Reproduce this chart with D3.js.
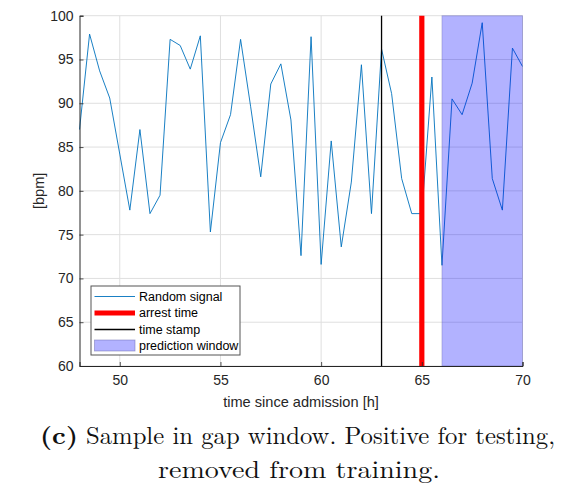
<!DOCTYPE html>
<html>
<head>
<meta charset="utf-8">
<script src="https://cdn.jsdelivr.net/npm/d3@7/dist/d3.min.js"></script>
<style>
  html, body { margin: 0; padding: 0; background: #fff; }
  svg { display: block; }
</style>
</head>
<body>
<svg id="chart" width="571" height="489"></svg>
<script>
// Heart-rate samples every half hour (time since admission [h], bpm)
const hours = [48, 48.5, 49, 49.5, 50, 50.5, 51, 51.5, 52, 52.5, 53, 53.5, 54, 54.5,
  55, 55.5, 56, 56.5, 57, 57.5, 58, 58.5, 59, 59.5, 60, 60.5, 61, 61.5, 62, 62.5,
  63, 63.5, 64, 64.5, 65, 65.5, 66, 66.5, 67, 67.5, 68, 68.5, 69, 69.5, 70];
const bpm = [87.0, 97.9, 93.7, 90.6, 84.2, 77.8, 87.0, 77.4, 79.5, 97.3, 96.6, 93.9, 97.7, 75.3,
  85.5, 88.7, 97.3, 89.6, 81.6, 92.2, 94.5, 88.1, 72.6, 97.6, 71.6, 85.7, 73.6, 81.0, 94.4, 77.4,
  96.2, 91.1, 81.4, 77.4, 77.4, 93.0, 71.5, 90.5, 88.7, 92.3, 99.2, 81.4, 77.8, 96.3, 94.2];

const arrestTime = 65;
const timeStamp = 63;
const predictionWindow = [66, 70];

const xDomain = [48, 70];
const yDomain = [60, 100];
const xTicks = [50, 55, 60, 65, 70];
const yTicks = [60, 65, 70, 75, 80, 85, 90, 95, 100];

const legendLabels = ["Random signal", "arrest time", "time stamp", "prediction window"];

const svg = d3.select("#chart");
const M = { left: 79.5, right: 522.5, top: 15.7, bottom: 366 };

const x = d3.scaleLinear().domain(xDomain).range([M.left, M.right]);
const y = d3.scaleLinear().domain(yDomain).range([M.bottom, M.top]);

const axisColor = "#262626";
const gridColor = "#dfdfdf";
const lineColor = "#0072BD";

// grid
const grid = svg.append("g");
grid.selectAll("line.gx").data(xTicks).join("line")
  .attr("x1", d => x(d)).attr("x2", d => x(d))
  .attr("y1", M.top).attr("y2", M.bottom)
  .attr("stroke", gridColor).attr("stroke-width", 1);
grid.selectAll("line.gy").data(yTicks).join("line")
  .attr("x1", M.left).attr("x2", M.right)
  .attr("y1", d => y(d)).attr("y2", d => y(d))
  .attr("stroke", gridColor).attr("stroke-width", 1);

// signal
const line = d3.line().x((d, i) => x(hours[i])).y(d => y(d));
svg.append("path").datum(bpm)
  .attr("d", line)
  .attr("fill", "none")
  .attr("stroke", lineColor)
  .attr("stroke-width", 0.9)
  .attr("stroke-linejoin", "round");

// time stamp
svg.append("line")
  .attr("x1", x(timeStamp)).attr("x2", x(timeStamp))
  .attr("y1", M.top).attr("y2", M.bottom)
  .attr("stroke", "#000").attr("stroke-width", 1.3);

// arrest time
svg.append("line")
  .attr("x1", x(arrestTime)).attr("x2", x(arrestTime))
  .attr("y1", M.top).attr("y2", M.bottom)
  .attr("stroke", "#ff0000").attr("stroke-width", 5.2);

// prediction window
svg.append("rect")
  .attr("x", x(predictionWindow[0]))
  .attr("y", y(yDomain[1]))
  .attr("width", x(predictionWindow[1]) - x(predictionWindow[0]))
  .attr("height", y(yDomain[0]) - y(yDomain[1]))
  .attr("fill", "#0000ff").attr("fill-opacity", 0.3)
  .attr("stroke", "#6a6ab0").attr("stroke-opacity", 0.35).attr("stroke-width", 1);

// axes
const xAxis = d3.axisBottom(x).tickValues(xTicks).tickSize(-4).tickPadding(9).tickFormat(d3.format("d"));
const yAxis = d3.axisLeft(y).tickValues(yTicks).tickSize(-4).tickPadding(6).tickFormat(d3.format("d"));

const gx = svg.append("g").attr("transform", `translate(0,${M.bottom})`).call(xAxis);
const gy = svg.append("g").attr("transform", `translate(${M.left},0)`).call(yAxis);
[gx, gy].forEach(g => {
  g.select(".domain").attr("stroke", axisColor).attr("stroke-width", 1);
  g.selectAll(".tick line").attr("stroke", axisColor).attr("stroke-width", 0.8);
  g.selectAll(".tick text")
    .attr("fill", axisColor)
    .attr("font-family", "Liberation Sans, Arial, sans-serif")
    .attr("font-size", 14);
});
gx.selectAll(".tick text").attr("dy", "0.71em");

// axis labels
svg.append("text")
  .attr("x", (M.left + M.right) / 2).attr("y", 407)
  .attr("text-anchor", "middle")
  .attr("fill", axisColor)
  .attr("font-family", "Liberation Sans, Arial, sans-serif")
  .attr("font-size", 14.6)
  .text("time since admission [h]");

svg.append("text")
  .attr("transform", `translate(44,${(M.top + M.bottom) / 2}) rotate(-90)`)
  .attr("text-anchor", "middle")
  .attr("fill", axisColor)
  .attr("font-family", "Liberation Sans, Arial, sans-serif")
  .attr("font-size", 14.6)
  .text("[bpm]");

// legend
const leg = svg.append("g");
leg.append("rect")
  .attr("x", 91).attr("y", 286).attr("width", 149).attr("height", 69)
  .attr("fill", "#fff").attr("stroke", "#555").attr("stroke-width", 1);
const rowY = [296.5, 313, 329.5, 345.5];
const legFont = { family: "Liberation Sans, Arial, sans-serif", size: 12.5 };
leg.append("line").attr("x1", 94.5).attr("x2", 135).attr("y1", rowY[0]).attr("y2", rowY[0])
  .attr("stroke", lineColor).attr("stroke-width", 0.9);
leg.append("line").attr("x1", 94.5).attr("x2", 135).attr("y1", rowY[1]).attr("y2", rowY[1])
  .attr("stroke", "#ff0000").attr("stroke-width", 5);
leg.append("line").attr("x1", 94.5).attr("x2", 135).attr("y1", rowY[2]).attr("y2", rowY[2])
  .attr("stroke", "#000").attr("stroke-width", 1.3);
leg.append("rect").attr("x", 94.5).attr("y", rowY[3] - 5.5).attr("width", 40.5).attr("height", 11)
  .attr("fill", "#0000ff").attr("fill-opacity", 0.3)
  .attr("stroke", "#6a6ab0").attr("stroke-opacity", 0.6).attr("stroke-width", 0.8);
leg.selectAll("text.lab").data(legendLabels).join("text")
  .attr("x", 139).attr("y", (d, i) => rowY[i])
  .attr("dy", "0.35em")
  .attr("fill", "#000")
  .attr("font-family", legFont.family)
  .attr("font-size", legFont.size)
  .text(d => d);

// caption
const capFont = "Latin Modern Roman, CMU Serif, DejaVu Serif, Liberation Serif, serif";
const caption = svg.append("g")
  .attr("font-family", capFont)
  .attr("font-size", 24)
  .attr("fill", "#111");
caption.append("text")
  .attr("x", 40).attr("y", 444)
  .attr("font-weight", "bold")
  .attr("textLength", 38).attr("lengthAdjust", "spacingAndGlyphs")
  .text("(c)");
caption.append("text")
  .attr("x", 86).attr("y", 444)
  .attr("textLength", 469).attr("lengthAdjust", "spacingAndGlyphs")
  .text("Sample in gap window. Positive for testing,");
caption.append("text")
  .attr("x", 158).attr("y", 478)
  .attr("textLength", 282).attr("lengthAdjust", "spacingAndGlyphs")
  .text("removed from training.");
</script>
</body>
</html>
